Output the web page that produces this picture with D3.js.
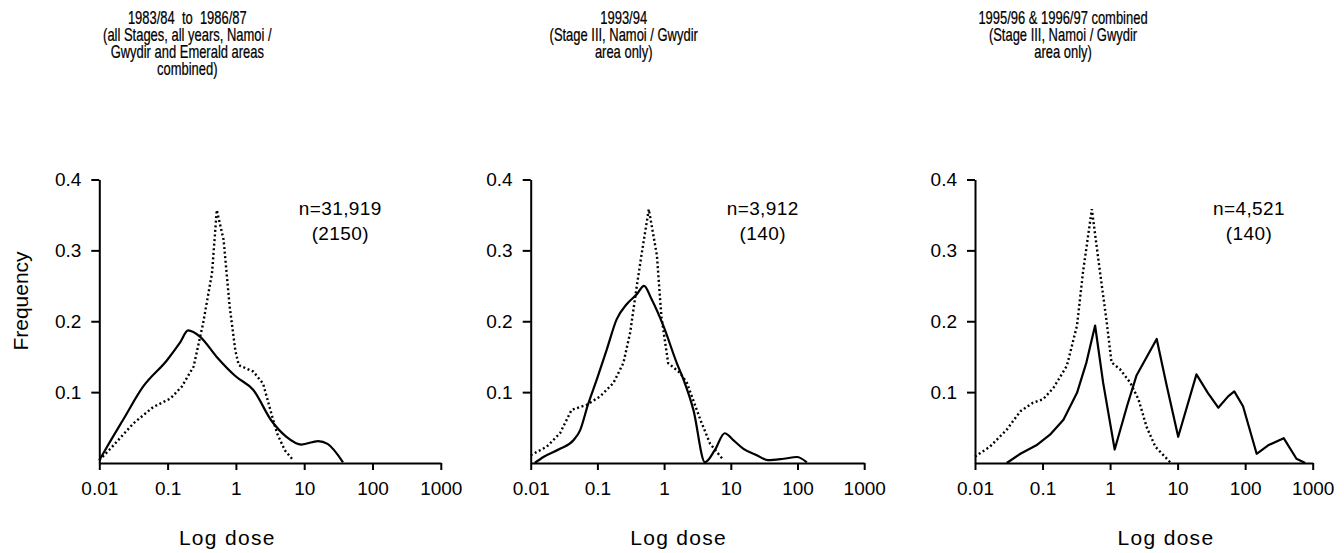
<!DOCTYPE html>
<html>
<head>
<meta charset="utf-8">
<script src="https://cdn.jsdelivr.net/npm/d3@7"></script>
<style>
  body { margin: 0; background: #fff; }
  svg { display: block; font-family: "Liberation Sans", Arial, Helvetica, sans-serif; }
  .title { font-size: 18px; white-space: pre; stroke: #000; stroke-width: 0.25px; }
  .axis path, .axis line { stroke: #000; stroke-width: 2; }
  .axis text { font-size: 19px; fill: #000; }
</style>
</head>
<body>
<script>
// tick values / labels shared by the three panels
const xTicks = [0.01, 0.1, 1, 10, 100, 1000];
const xTickLabels = ['0.01', '0.1', '1', '10', '100', '1000'];
const yTicks = [0.1, 0.2, 0.3, 0.4];

const titles = [
    ['1983/84  to  1986/87', '(all Stages, all years, Namoi /', 'Gwydir and Emerald areas', 'combined)'],
    ['1993/94', '(Stage III, Namoi / Gwydir', 'area only)'],
    ['1995/96 & 1996/97 combined', '(Stage III, Namoi / Gwydir', 'area only)']
];
const nLabels = ['n=31,919', 'n=3,912', 'n=4,521'];
const countLabels = ['(2150)', '(140)', '(140)'];

// [dose, frequency]
const solid1 = [[0.01,0.004],[0.013,0.023],[0.022,0.060],[0.044,0.108],[0.098,0.145],[0.15,0.169],[0.2,0.187],
    [0.3,0.178],[0.52,0.150],[1.0,0.122],[1.8,0.103],[3.3,0.060],[5.5,0.037],[9.1,0.026],[16,0.031],[22,0.027],[37,0.001]];
const dotted1 = [[0.01,0.004],[0.0145,0.020],[0.0316,0.056],[0.0617,0.079],[0.11,0.091],[0.162,0.108],[0.24,0.136],
    [0.331,0.197],[0.447,0.268],[0.525,0.357],[0.66,0.315],[0.81,0.221],[0.98,0.159],[1.1,0.138],[1.8,0.129],
    [2.5,0.112],[3.3,0.070],[4.0,0.042],[5.2,0.018],[6.9,0.004]];

const solid2 = [[0.0115,0],[0.0155,0.0085],[0.0275,0.020],[0.0437,0.032],[0.055,0.046],[0.072,0.082],[0.098,0.118],
    [0.138,0.160],[0.195,0.203],[0.275,0.224],[0.39,0.238],[0.5,0.250],[0.65,0.231],[0.98,0.193],[1.55,0.141],
    [1.95,0.118],[2.75,0.075],[4.1,0.001],[5.75,0.018],[8.1,0.042],[11,0.032],[15.5,0.020],[24.5,0.011],
    [36,0.004],[62,0.006],[98,0.0085],[138,0.001]];
const dotted2 = [[0.01,0.011],[0.0174,0.023],[0.0275,0.042],[0.041,0.075],[0.069,0.082],[0.11,0.094],[0.174,0.113],
    [0.245,0.141],[0.31,0.184],[0.39,0.250],[0.457,0.293],[0.59,0.358],[0.78,0.293],[0.91,0.207],[1.15,0.141],
    [1.74,0.127],[2.2,0.113],[3.5,0.061],[4.9,0.027],[7.8,0.004]];

const solid3 = [[0.0295,0],[0.047,0.013],[0.081,0.025],[0.129,0.040],[0.204,0.061],[0.324,0.099],[0.447,0.142],
    [0.60,0.194],[0.79,0.113],[1.17,0.019],[1.78,0.080],[2.45,0.123],[4.9,0.175],[6.9,0.109],[10.2,0.037],
    [19,0.125],[28,0.099],[40,0.078],[56,0.094],[69,0.101],[93,0.080],[148,0.013],[219,0.025],[372,0.035],
    [575,0.006],[776,0]];
const dotted3 = [[0.01,0.009],[0.0166,0.023],[0.0295,0.047],[0.047,0.073],[0.072,0.085],[0.102,0.090],[0.145,0.106],
    [0.229,0.137],[0.324,0.194],[0.398,0.270],[0.537,0.358],[0.708,0.270],[0.891,0.199],[1.05,0.142],[1.41,0.132],
    [2.0,0.113],[2.63,0.090],[3.47,0.051],[4.68,0.023],[7.76,0.001]];

const solids = [solid1, solid2, solid3];
const dotteds = [dotted1, dotted2, dotted3];

// layout per panel
const panelLeft = [99.3, 530.7, 975];
const panelWidth = [341.5, 333.5, 337.7];
const annOffset = [241, 232, 274];
const xLabelOffset = [128, 148, 191];
const titleOffset = [88, 93, 88];
// panel 3 solid line has sharp peaks, keep it straight
const solidCurves = [d3.curveMonotoneX, d3.curveMonotoneX, d3.curveLinear];

let svg = d3.select('body').append('svg')
    .attr('width', 1344)
    .attr('height', 553);

let y = d3.scaleLinear().domain([0, 0.4]).range([463, 179.5]);

svg.append('text')
    .attr('transform', 'translate(28,301) rotate(-90)')
    .attr('text-anchor', 'middle')
    .style('font-size', '21px')
    .text('Frequency');

for (let i = 0; i < 3; i++) {
    let left = panelLeft[i];
    let x = d3.scaleLog().domain([0.01, 1000]).range([left, left + panelWidth[i]]);
    let g = svg.append('g');

    // the original title face is a narrow one: squeeze it horizontally
    let title = g.append('text')
        .attr('class', 'title')
        .attr('text-anchor', 'middle')
        .attr('transform', 'translate(' + (left + titleOffset[i]) + ',0) scale(0.72,1)');
    titles[i].forEach((t, j) => {
        title.append('tspan')
            .attr('x', 0)
            .attr('y', 24 + j * 17)
            .text(t);
    });

    g.append('g')
        .attr('class', 'axis')
        .attr('transform', 'translate(0,463)')
        .call(d3.axisBottom(x).tickValues(xTicks).tickFormat((d, j) => xTickLabels[j])
            .tickSize(7).tickSizeOuter(0).tickPadding(12));

    g.append('g')
        .attr('class', 'axis')
        .attr('transform', 'translate(' + left + ',0)')
        .call(d3.axisLeft(y).tickValues(yTicks).tickFormat(d3.format('.1f'))
            .tickSize(8).tickSizeOuter(0).tickPadding(10));

    let dotLine = d3.line()
        .curve(d3.curveLinear)
        .x(d => x(d[0]))
        .y(d => y(d[1]));
    let solidLine = d3.line()
        .curve(solidCurves[i])
        .x(d => x(d[0]))
        .y(d => y(d[1]));

    g.append('path')
        .datum(dotteds[i])
        .attr('d', dotLine)
        .style('fill', 'none')
        .style('stroke', '#000')
        .style('stroke-width', 2.4)
        .style('stroke-dasharray', '2,2.6');

    g.append('path')
        .datum(solids[i])
        .attr('d', solidLine)
        .style('fill', 'none')
        .style('stroke', '#000')
        .style('stroke-width', 2.2)
        .style('stroke-linejoin', 'round');

    g.append('text')
        .attr('x', left + annOffset[i])
        .attr('y', 215)
        .attr('text-anchor', 'middle')
        .style('font-size', '19px')
        .style('letter-spacing', '0.4px')
        .text(nLabels[i]);
    g.append('text')
        .attr('x', left + annOffset[i])
        .attr('y', 240)
        .attr('text-anchor', 'middle')
        .style('font-size', '19px')
        .style('letter-spacing', '0.4px')
        .text(countLabels[i]);

    g.append('text')
        .attr('x', left + xLabelOffset[i])
        .attr('y', 545)
        .attr('text-anchor', 'middle')
        .style('font-size', '21px')
        .style('letter-spacing', '1.3px')
        .text('Log dose');
}
</script>
</body>
</html>
